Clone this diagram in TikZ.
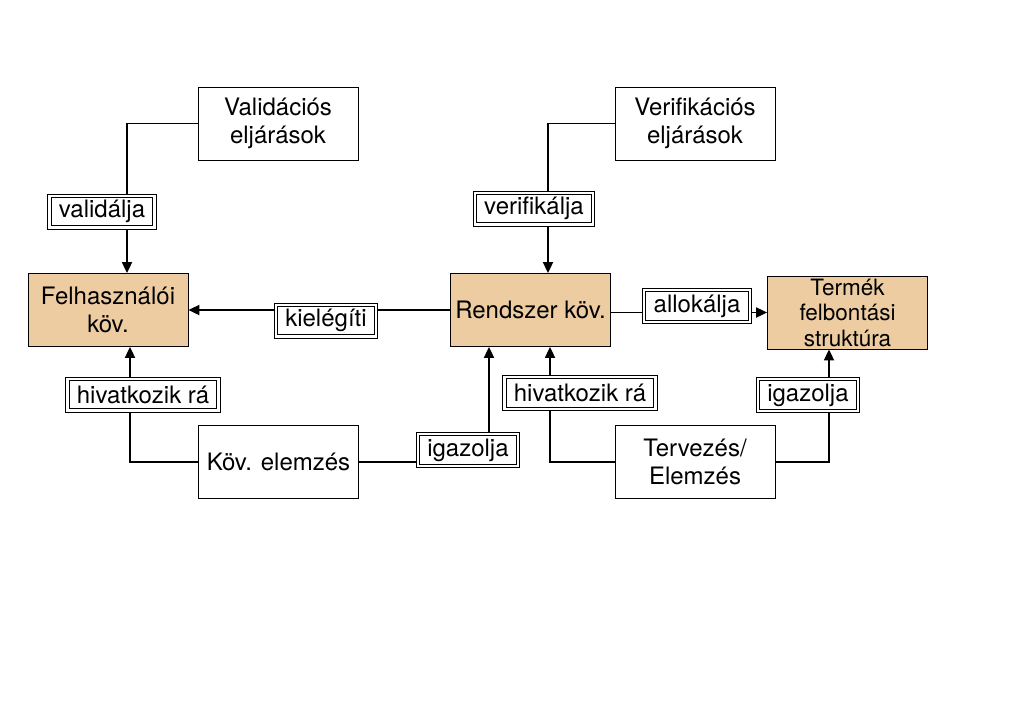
\documentclass[tikz,border=0pt]{standalone}
\usepackage{fontspec}
\setmainfont{TeX Gyre Heros}
\usetikzlibrary{arrows.meta}
\definecolor{reqtan}{RGB}{237,204,161}
\tikzset{
  block/.style={draw, line width=0.8pt, minimum width=160pt, minimum height=73pt,
    inner sep=0pt, align=center, font=\fontsize{24}{27.5}\selectfont},
  req/.style={block, fill=reqtan},
  rel/.style={draw, line width=1pt, fill=white,
    inner xsep=11pt, inner ysep=0pt, minimum height=35pt,
    font=\fontsize{24}{27.5}\selectfont,
    path picture={\draw[line width=1pt]
      ([shift={(3.2pt,3.2pt)}]path picture bounding box.south west) rectangle
      ([shift={(-3.2pt,-3.2pt)}]path picture bounding box.north east);}},
  link/.style={line width=1.8pt},
  arr/.style={link, -{Triangle[length=11pt,width=10pt]}},
}
\begin{document}
\begin{tikzpicture}[x=1pt,y=-1pt]
    \useasboundingbox (0,0) rectangle (1024,704);

    % Procedures
    \node[block] (valid) at (278,123.5) {Validációs\\eljárások};
    \node[block] (verif) at (695,123.5) {Verifikációs\\eljárások};

    % Requirements
    \node[req] (felh) at (108,310) {Felhasználói\\köv.};
    \node[req] (rendszer) at (530.5,310) {Rendszer köv.};
    \node[req, font=\fontsize{22.5}{25.5}\selectfont] (termek) at (847.5,312.5) {Termék\\felbontási\\struktúra};

    % Analyses
    \node[block] (kovelem) at (278.5,462) {Köv. elemzés};
    \node[block] (tervez) at (695,462) {Tervezés/\\Elemzés};

    % Connectors
    \draw[arr] (valid.west) -| ([xshift=19pt]felh.north);
    \draw[arr] (verif.west) -| ([xshift=17.5pt]rendszer.north);
    \draw[arr] (rendszer.west) -- (felh.east);
    \draw[arr] (rendszer.east |- termek.west) -- (termek.west);
    \draw[arr] (kovelem.west) -| ([xshift=22pt]felh.south);
    \draw[arr] (kovelem.east) -| ([xshift=-41.5pt]rendszer.south);
    \draw[arr] (tervez.west) -| ([xshift=19.5pt]rendszer.south);
    \draw[arr] (tervez.east) -| ([xshift=-18.5pt]termek.south);

    % Relation labels
    \node[rel] (validalja) at (102,211.5) {validálja};
    \node[rel] (verifikalja) at (534,208.5) {verifikálja};
    \node[rel] (kielegiti) at (326,320.5) {kielégíti};
    \node[rel] (allokalja) at (697,306) {allokálja};
    \node[rel] (hivbal) at (143,394.5) {hivatkozik rá};
    \node[rel] (hivjobb) at (580,393) {hivatkozik rá};
    \node[rel] (igazbal) at (468,450) {igazolja};
    \node[rel] (igazjobb) at (808,395) {igazolja};
\end{tikzpicture}
\end{document}
